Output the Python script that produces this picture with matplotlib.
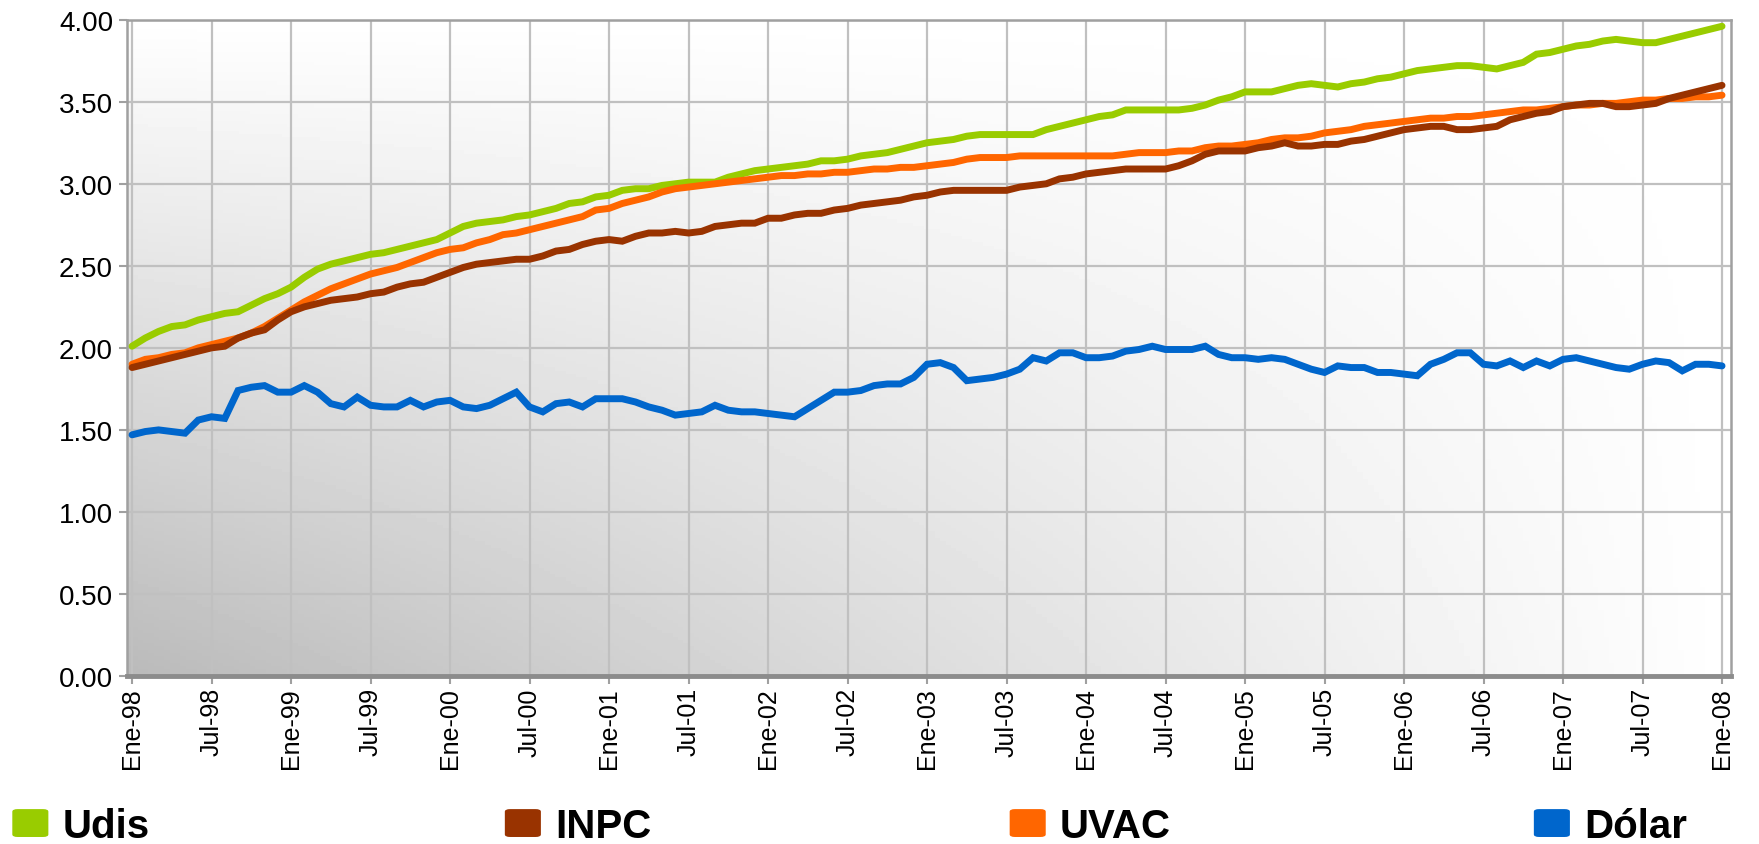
import matplotlib
matplotlib.use("Agg")
import matplotlib.pyplot as plt
import numpy as np
from matplotlib.patches import FancyBboxPatch

# monthly values, Ene-98 .. Ene-08
udis = [
    2.01, 2.06, 2.10, 2.13, 2.14, 2.17, 2.19, 2.21, 2.22, 2.26, 2.30, 2.33,
    2.37, 2.43, 2.48, 2.51, 2.53, 2.55, 2.57, 2.58, 2.60, 2.62, 2.64, 2.66,
    2.70, 2.74, 2.76, 2.77, 2.78, 2.80, 2.81, 2.83, 2.85, 2.88, 2.89, 2.92,
    2.93, 2.96, 2.97, 2.97, 2.99, 3.00, 3.01, 3.01, 3.01, 3.04, 3.06, 3.08,
    3.09, 3.10, 3.11, 3.12, 3.14, 3.14, 3.15, 3.17, 3.18, 3.19, 3.21, 3.23,
    3.25, 3.26, 3.27, 3.29, 3.30, 3.30, 3.30, 3.30, 3.30, 3.33, 3.35, 3.37,
    3.39, 3.41, 3.42, 3.45, 3.45, 3.45, 3.45, 3.45, 3.46, 3.48, 3.51, 3.53,
    3.56, 3.56, 3.56, 3.58, 3.60, 3.61, 3.60, 3.59, 3.61, 3.62, 3.64, 3.65,
    3.67, 3.69, 3.70, 3.71, 3.72, 3.72, 3.71, 3.70, 3.72, 3.74, 3.79, 3.80,
    3.82, 3.84, 3.85, 3.87, 3.88, 3.87, 3.86, 3.86, 3.88, 3.90, 3.92, 3.94,
    3.96,
]
inpc = [
    1.88, 1.90, 1.92, 1.94, 1.96, 1.98, 2.00, 2.01, 2.06, 2.09, 2.11, 2.17,
    2.22, 2.25, 2.27, 2.29, 2.30, 2.31, 2.33, 2.34, 2.37, 2.39, 2.40, 2.43,
    2.46, 2.49, 2.51, 2.52, 2.53, 2.54, 2.54, 2.56, 2.59, 2.60, 2.63, 2.65,
    2.66, 2.65, 2.68, 2.70, 2.70, 2.71, 2.70, 2.71, 2.74, 2.75, 2.76, 2.76,
    2.79, 2.79, 2.81, 2.82, 2.82, 2.84, 2.85, 2.87, 2.88, 2.89, 2.90, 2.92,
    2.93, 2.95, 2.96, 2.96, 2.96, 2.96, 2.96, 2.98, 2.99, 3.00, 3.03, 3.04,
    3.06, 3.07, 3.08, 3.09, 3.09, 3.09, 3.09, 3.11, 3.14, 3.18, 3.20, 3.20,
    3.20, 3.22, 3.23, 3.25, 3.23, 3.23, 3.24, 3.24, 3.26, 3.27, 3.29, 3.31,
    3.33, 3.34, 3.35, 3.35, 3.33, 3.33, 3.34, 3.35, 3.39, 3.41, 3.43, 3.44,
    3.47, 3.48, 3.49, 3.49, 3.47, 3.47, 3.48, 3.49, 3.52, 3.54, 3.56, 3.58,
    3.60,
]
uvac = [
    1.90, 1.93, 1.94, 1.96, 1.97, 2.00, 2.02, 2.04, 2.06, 2.09, 2.13, 2.18,
    2.23, 2.28, 2.32, 2.36, 2.39, 2.42, 2.45, 2.47, 2.49, 2.52, 2.55, 2.58,
    2.60, 2.61, 2.64, 2.66, 2.69, 2.70, 2.72, 2.74, 2.76, 2.78, 2.80, 2.84,
    2.85, 2.88, 2.90, 2.92, 2.95, 2.97, 2.98, 2.99, 3.00, 3.01, 3.02, 3.03,
    3.04, 3.05, 3.05, 3.06, 3.06, 3.07, 3.07, 3.08, 3.09, 3.09, 3.10, 3.10,
    3.11, 3.12, 3.13, 3.15, 3.16, 3.16, 3.16, 3.17, 3.17, 3.17, 3.17, 3.17,
    3.17, 3.17, 3.17, 3.18, 3.19, 3.19, 3.19, 3.20, 3.20, 3.22, 3.23, 3.23,
    3.24, 3.25, 3.27, 3.28, 3.28, 3.29, 3.31, 3.32, 3.33, 3.35, 3.36, 3.37,
    3.38, 3.39, 3.40, 3.40, 3.41, 3.41, 3.42, 3.43, 3.44, 3.45, 3.45, 3.46,
    3.47, 3.48, 3.48, 3.49, 3.49, 3.50, 3.51, 3.51, 3.52, 3.52, 3.53, 3.53,
    3.54,
]
dolar = [
    1.47, 1.49, 1.50, 1.49, 1.48, 1.56, 1.58, 1.57, 1.74, 1.76, 1.77, 1.73,
    1.73, 1.77, 1.73, 1.66, 1.64, 1.70, 1.65, 1.64, 1.64, 1.68, 1.64, 1.67,
    1.68, 1.64, 1.63, 1.65, 1.69, 1.73, 1.64, 1.61, 1.66, 1.67, 1.64, 1.69,
    1.69, 1.69, 1.67, 1.64, 1.62, 1.59, 1.60, 1.61, 1.65, 1.62, 1.61, 1.61,
    1.60, 1.59, 1.58, 1.63, 1.68, 1.73, 1.73, 1.74, 1.77, 1.78, 1.78, 1.82,
    1.90, 1.91, 1.88, 1.80, 1.81, 1.82, 1.84, 1.87, 1.94, 1.92, 1.97, 1.97,
    1.94, 1.94, 1.95, 1.98, 1.99, 2.01, 1.99, 1.99, 1.99, 2.01, 1.96, 1.94,
    1.94, 1.93, 1.94, 1.93, 1.90, 1.87, 1.85, 1.89, 1.88, 1.88, 1.85, 1.85,
    1.84, 1.83, 1.90, 1.93, 1.97, 1.97, 1.90, 1.89, 1.92, 1.88, 1.92, 1.89,
    1.93, 1.94, 1.92, 1.90, 1.88, 1.87, 1.90, 1.92, 1.91, 1.86, 1.90, 1.90,
    1.89,
]

tick_labels = [
    "Ene-98", "Jul-98", "Ene-99", "Jul-99", "Ene-00", "Jul-00", "Ene-01",
    "Jul-01", "Ene-02", "Jul-02", "Ene-03", "Jul-03", "Ene-04", "Jul-04",
    "Ene-05", "Jul-05", "Ene-06", "Jul-06", "Ene-07", "Jul-07", "Ene-08",
]
series_names = ["Udis", "INPC", "UVAC", "Dólar"]
series_colors = ["#99CC00", "#993300", "#FF6600", "#0066CC"]
legend_x = [0.007, 0.287, 0.574, 0.872]

plt.rcParams["font.family"] = ["Liberation Sans", "DejaVu Sans"]

fig = plt.figure(figsize=(17.59, 8.45), dpi=100)
ax = fig.add_axes([0.0722, 0.1988, 0.9119, 0.7767])

# grey gradient wall: dark bottom-left, white top/right
u, v = np.meshgrid(np.linspace(0, 1, 300), np.linspace(0, 1, 200))
shade = 1 - 0.27 * (1 - v) * (1 - u)
ax.imshow(shade, cmap="gray", vmin=0, vmax=1, origin="lower",
          extent=[0, 1, 0, 1], transform=ax.transAxes, aspect="auto", zorder=0)

months = np.arange(len(udis))
series = {"Udis": udis, "UVAC": uvac, "INPC": inpc, "Dólar": dolar}
for name in ["Udis", "UVAC", "INPC", "Dólar"]:
    color = series_colors[series_names.index(name)]
    ax.plot(months, series[name], color=color, lw=5, zorder=3,
            solid_capstyle="round", solid_joinstyle="miter")

ax.set_xlim(-0.38, 120.68)
ax.set_ylim(0, 4)
ax.set_xticks(np.arange(0, 121, 6))
ax.set_xticklabels(tick_labels, rotation=90, fontsize=18)
ax.set_yticks(np.arange(0, 4.01, 0.5))
ax.set_yticklabels([f"{t:.2f}" for t in np.arange(0, 4.01, 0.5)], fontsize=20)

ax.grid(True, color="#c0c0c0", lw=1.6, zorder=1)
ax.set_axisbelow(True)
for side in ["top", "right", "left"]:
    ax.spines[side].set_color("#a0a0a0")
    ax.spines[side].set_linewidth(1.8)
ax.spines["bottom"].set_color("#8c8c8c")
ax.spines["bottom"].set_linewidth(3.5)
ax.tick_params(axis="both", colors="#a0a0a0", labelcolor="black",
               length=6, width=1.5, direction="out")
ax.tick_params(axis="x", pad=2)
ax.tick_params(axis="y", pad=4)

# legend along the bottom edge
for x0, name, color in zip(legend_x, series_names, series_colors):
    fig.add_artist(FancyBboxPatch((x0, 0.0083), 0.0205, 0.033,
                                  boxstyle="round,pad=0,rounding_size=0.003",
                                  transform=fig.transFigure,
                                  facecolor=color, edgecolor="none"))
    fig.text(x0 + 0.0285, 0.0083, name, fontsize=29, fontweight="bold",
             family=["Liberation Sans Narrow", "Liberation Sans", "DejaVu Sans"],
             va="baseline", ha="left")

fig.savefig("out.png", dpi=100)
